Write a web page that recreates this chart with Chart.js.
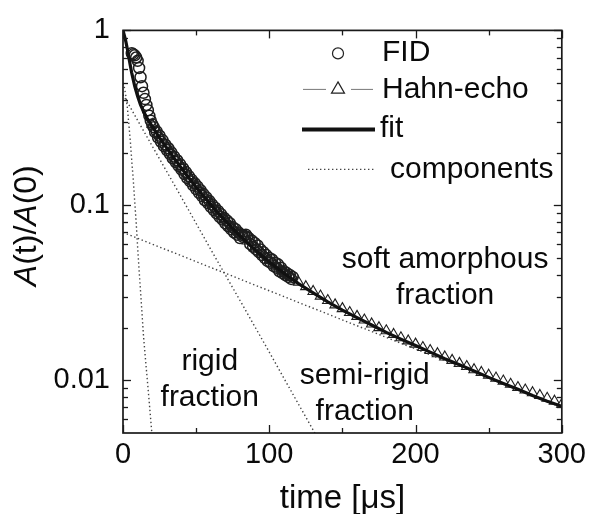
<!DOCTYPE html>
<html><head><meta charset="utf-8">
<script src="https://cdn.jsdelivr.net/npm/chart.js@4/dist/chart.umd.min.js"></script>
<style>html,body{margin:0;padding:0;background:#fff;}#wrap{width:591px;height:514px;}</style>
</head><body><div id="wrap"><canvas id="c" width="591" height="514"></canvas></div>
<script>
// ---- data ----
const fidTime = [6,7,8,9,10,11,12,13,14,15,16,17,18,19,20,21,22,23,24,25,26,27,28,29,30,31,32,33,34,35,36,37,38,39,40,41,42,43,44,45,46,47,48,49,50,51,52,53,54,55,56,57,58,59,60,61,62,63,64,65,66,67,68,69,70,71,72,73,74,75,76,77,78,79,80,81,82,83,84,85,86,87,88,89,90,91,92,93,94,95,96,97,98,99,100,101,102,103,104,105,106,107,108,109,110,111,112,113,114,115,116];
const fidValues = [0.74,0.73,0.72,0.70,0.67,0.61,0.54,0.48,0.44,0.405,0.375,0.35,0.325,0.305,0.29,0.28,0.262,0.265,0.244,0.25,0.231,0.236,0.218,0.222,0.207,0.212,0.197,0.201,0.186,0.19,0.177,0.181,0.168,0.172,0.16,0.163,0.151,0.155,0.143,0.147,0.137,0.14,0.13,0.134,0.124,0.128,0.118,0.122,0.113,0.116,0.107,0.111,0.103,0.106,0.098,0.101,0.094,0.097,0.09,0.093,0.086,0.089,0.083,0.085,0.079,0.082,0.076,0.079,0.073,0.075,0.07,0.073,0.068,0.07,0.065,0.068,0.066,0.067,0.068,0.066,0.065,0.06,0.063,0.058,0.061,0.056,0.059,0.054,0.056,0.052,0.054,0.05,0.052,0.048,0.05,0.047,0.049,0.045,0.047,0.044,0.046,0.042,0.044,0.041,0.042,0.04,0.041,0.039,0.04,0.038,0.039];
const echoTime = [20,25,30,35,40,45,50,55,60,65,70,75,80,85,90,95,100,105,110,115,120,125,130,135,140,145,150,155,160,165,170,175,180,185,190,195,200,205,210,215,220,225,230,235,240,245,250,255,260,265,270,275,280,285,290,295,300];
const echoValues = [0.29,0.25,0.217,0.19,0.167,0.148,0.131,0.116,0.104,0.093,0.084,0.0755,0.0687,0.0626,0.0573,0.0527,0.0486,0.0449,0.0418,0.039,0.0364,0.0343,0.0322,0.0303,0.0286,0.027,0.0257,0.0244,0.0232,0.0221,0.021,0.02,0.0192,0.0183,0.0175,0.0168,0.0161,0.0154,0.0148,0.0142,0.0136,0.013,0.0125,0.012,0.0115,0.0111,0.0107,0.0103,0.0099,0.0095,0.0091,0.0088,0.0085,0.0082,0.0079,0.0076,0.0073];
const fitTime = [0,1,2,3,4,5,6,8,10,12,14,16,18,20,25,30,35,40,45,50,55,60,65,70,75,80,85,90,95,100,110,120,130,140,150,160,170,180,190,200,210,220,230,240,250,260,270,280,290,300];
const fitValues = [1.0,0.93,0.86,0.78,0.70,0.63,0.57,0.48,0.42,0.375,0.345,0.32,0.30,0.283,0.243,0.212,0.186,0.163,0.144,0.127,0.113,0.101,0.0905,0.0815,0.0737,0.067,0.061,0.056,0.0515,0.0475,0.041,0.0357,0.0316,0.0281,0.0252,0.0228,0.0207,0.0188,0.0172,0.0158,0.0145,0.0133,0.0123,0.0113,0.0104,0.0096,0.0089,0.0082,0.0076,0.0071];
const rigidTime = [0,1,2,3,4,5,6,7,8,9,10,11,12,14,16,18,20];
const rigidValues = [0.50,0.47,0.42,0.36,0.29,0.235,0.18,0.14,0.105,0.08,0.058,0.043,0.032,0.018,0.0115,0.0074,0.0047];
const semiTime = [0,20,40,60,80,100,120,140];
const semiValues = [0.43,0.218,0.111,0.056,0.0286,0.0145,0.0073,0.0037];
const softTime = [0,100,200,300];
const softValues = [0.07,0.0325,0.0151,0.007];
const xTickValues = [0,100,200,300];
const xTickLabels = ['0','100','200','300'];
const xMinorTicks = [50,150,250];
const yTickValues = [0.01,0.1,1];
const yTickLabels = ['0.01','0.1','1'];
const yMinorTicks = [0.006,0.007,0.008,0.009,0.02,0.03,0.04,0.05,0.06,0.07,0.08,0.09,0.2,0.3,0.4,0.5,0.6,0.7,0.8,0.9];
const legendLabels = ['FID','Hahn-echo','fit','components'];
const annotationTexts = [['rigid','fraction'],['semi-rigid','fraction'],['soft amorphous','fraction']];
const xTitle = 'time [\u03bcs]';

// ---- rendering ----
const FONT = '"Liberation Sans", Arial, Helvetica, sans-serif';
const INK = '#0a0a0a';
const pts = (t, v) => t.map((x, i) => ({x: x, y: v[i]}));
const dotted = {borderColor:'#444', borderWidth:1.4, borderDash:[1.4,2.6], pointRadius:0, showLine:true, fill:false, tension:0};

const annotationAnchors = [[59.3,0.0127],[165.3,0.0106],[220.2,0.0486]];

const framePlugin = {
  id:'frame',
  afterDatasetsDraw(chart){
    const {ctx, chartArea:a, scales:{x, y}} = chart;
    ctx.save();
    ctx.strokeStyle = '#1a1a1a';
    ctx.lineWidth = 1.7;
    ctx.strokeRect(a.left, a.top, a.right - a.left, a.bottom - a.top);
    ctx.lineWidth = 1.3;
    const seg = (x1,y1,x2,y2) => {ctx.beginPath();ctx.moveTo(x1,y1);ctx.lineTo(x2,y2);ctx.stroke();};
    xTickValues.forEach(v => {const p = Math.round(x.getPixelForValue(v))+0.5; seg(p,a.bottom,p,a.bottom-8); seg(p,a.top,p,a.top+8);});
    xMinorTicks.forEach(v => {const p = Math.round(x.getPixelForValue(v))+0.5; seg(p,a.bottom,p,a.bottom-5); seg(p,a.top,p,a.top+5);});
    yTickValues.forEach(v => {const p = Math.round(y.getPixelForValue(v))+0.5; seg(a.left,p,a.left+8,p); seg(a.right,p,a.right-8,p);});
    yMinorTicks.forEach(v => {const p = Math.round(y.getPixelForValue(v))+0.5; seg(a.left,p,a.left+5,p); seg(a.right,p,a.right-5,p);});
    ctx.restore();
  }
};

const textPlugin = {
  id:'texts',
  afterDraw(chart){
    const {ctx, chartArea:a, scales:{x, y}} = chart;
    ctx.save();
    ctx.fillStyle = INK;
    ctx.textBaseline = 'middle';
    // legend
    const sx = a.left + 215, tx = a.left + 259;
    const rows = [22, 59, 98, 139].map(d => a.top + d);
    ctx.font = '30px ' + FONT;
    ctx.textAlign = 'left';
    ctx.fillText(legendLabels[0], tx, rows[0]);
    ctx.fillText(legendLabels[1], tx, rows[1]);
    ctx.fillText(legendLabels[2], tx - 2, rows[2]);
    ctx.fillText(legendLabels[3], tx + 8, rows[3]);
    // FID sample
    ctx.strokeStyle = '#222'; ctx.lineWidth = 1.2;
    ctx.beginPath(); ctx.arc(sx, rows[0] + 1, 5.5, 0, Math.PI*2); ctx.stroke();
    // Hahn-echo sample
    ctx.strokeStyle = '#777'; ctx.lineWidth = 1;
    ctx.beginPath(); ctx.moveTo(sx - 35, rows[1]); ctx.lineTo(sx - 12, rows[1]); ctx.moveTo(sx + 13, rows[1]); ctx.lineTo(sx + 35, rows[1]); ctx.stroke();
    ctx.strokeStyle = '#222'; ctx.lineWidth = 1.2;
    const r = 7.5;
    ctx.beginPath();
    ctx.moveTo(sx, rows[1] - r);
    ctx.lineTo(sx + r*0.866, rows[1] + r/2);
    ctx.lineTo(sx - r*0.866, rows[1] + r/2);
    ctx.closePath(); ctx.fillStyle = '#fff'; ctx.fill(); ctx.stroke();
    // fit sample
    ctx.strokeStyle = '#111'; ctx.lineWidth = 4;
    ctx.beginPath(); ctx.moveTo(sx - 36, rows[2] + 1); ctx.lineTo(sx + 37, rows[2] + 1); ctx.stroke();
    // components sample
    ctx.strokeStyle = '#444'; ctx.lineWidth = 1.4; ctx.setLineDash([1.4,2.6]);
    ctx.beginPath(); ctx.moveTo(sx - 30, rows[3]); ctx.lineTo(sx + 37, rows[3]); ctx.stroke();
    ctx.setLineDash([]);
    // annotations
    ctx.fillStyle = INK;
    ctx.textAlign = 'center';
    ctx.font = '30px ' + FONT;
    annotationTexts.forEach((lines, i) => {
      const px = x.getPixelForValue(annotationAnchors[i][0]);
      const py = y.getPixelForValue(annotationAnchors[i][1]);
      lines.forEach((s, j) => ctx.fillText(s, px, py + j*36));
    });
    // y-axis title with italic A
    const parts = [['A', true], ['(t)/', false], ['A', true], ['(0)', false]];
    const fN = '32px ' + FONT, fI = 'italic 32px ' + FONT;
    let w = 0;
    parts.forEach(p => {ctx.font = p[1] ? fI : fN; w += ctx.measureText(p[0]).width;});
    ctx.translate(27, (a.top + a.bottom)/2 - 6);
    ctx.rotate(-Math.PI/2);
    ctx.textAlign = 'left';
    let cx = -w/2;
    parts.forEach(p => {ctx.font = p[1] ? fI : fN; ctx.fillText(p[0], cx, 0); cx += ctx.measureText(p[0]).width;});
    ctx.restore();
  }
};

Chart.defaults.font.family = FONT;
Chart.defaults.color = INK;

new Chart(document.getElementById('c'), {
  type:'scatter',
  data:{
    datasets:[
      {label:legendLabels[2], data:pts(fitTime, fitValues), showLine:true, borderColor:'#111', borderWidth:3.2, pointRadius:0, tension:0, fill:false},
      Object.assign({label:'rigid'}, dotted, {data:pts(rigidTime, rigidValues)}),
      Object.assign({label:'semi-rigid'}, dotted, {data:pts(semiTime, semiValues)}),
      Object.assign({label:'soft'}, dotted, {data:pts(softTime, softValues)}),
      {label:legendLabels[0], data:pts(fidTime, fidValues), showLine:false, pointStyle:'circle', pointRadius:5.5, pointBorderWidth:1.5, pointBorderColor:'#1e1e1e', pointBackgroundColor:'rgba(255,255,255,0)'},
      {label:legendLabels[1], data:pts(echoTime, echoValues), showLine:true, borderColor:'#777', borderWidth:1, pointStyle:'triangle', pointRadius:6, pointBorderWidth:1.1, pointBorderColor:'#1e1e1e', pointBackgroundColor:'#fff', tension:0}
    ]
  },
  options:{
    responsive:false, animation:false, devicePixelRatio:1,
    layout:{padding:{top:26, right:28, left:0, bottom:0}},
    plugins:{legend:{display:false}, tooltip:{enabled:false}},
    scales:{
      x:{type:'linear', min:0, max:300,
        grid:{display:false, drawTicks:false}, border:{display:false},
        ticks:{font:{size:29}, padding:5, maxRotation:0, autoSkip:false, callback:(v,i)=>xTickLabels[i]},
        afterBuildTicks:s=>{s.ticks = xTickValues.map(v=>({value:v}));},
        afterFit:s=>{s.height = 81;},
        title:{display:true, text:xTitle, font:{size:33, lineHeight:1}, padding:{top:0, bottom:-1}, color:INK}
      },
      y:{type:'logarithmic', min:0.005, max:1,
        grid:{display:false, drawTicks:false}, border:{display:false},
        ticks:{font:{size:29}, padding:13, autoSkip:false, callback:(v,i)=>yTickLabels[i]},
        afterBuildTicks:s=>{s.ticks = yTickValues.map(v=>({value:v}));},
        afterFit:s=>{s.width = 123;}
      }
    }
  },
  plugins:[framePlugin, textPlugin]
});
</script></body></html>
